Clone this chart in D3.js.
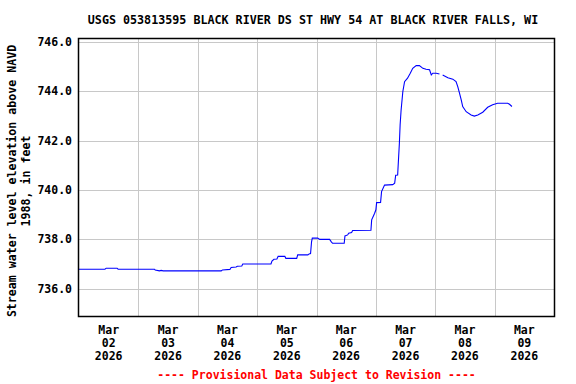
<!DOCTYPE html>
<meta charset="utf-8">
<script src="https://d3js.org/d3.v7.js"></script>
<style>
  body { margin: 0; background: #fff; }
  text { font-family: "DejaVu Sans Mono", monospace; font-weight: bold; }
</style>
<svg id="chart" width="576" height="384"></svg>
<script>
  const width = 576, height = 384;
  const margin = { top: 39, right: 22, bottom: 68, left: 79 };

  const title = "USGS 053813595 BLACK RIVER DS ST HWY 54 AT BLACK RIVER FALLS, WI";
  const yLabel = ["Stream water level elevation above NAVD", "1988, in feet"];
  const footer = "---- Provisional Data Subject to Revision ----";

  // hours after 2026-03-02 00:00, and gage height (ft, NAVD 1988); null = gap
  const hours = [0, 10.5, 11, 15.4, 15.8, 30.5, 30.8, 32.5, 33.2, 34, 57.5, 58, 61, 61.5, 63.5, 64, 65.8, 66.2,
    77.6, 78, 78.8, 80, 80.5, 83.2, 83.6, 88, 88.4, 92.5, 93, 93.6, 94, 94.3, 96.5, 97.3, 101.3, 102, 102.5,
    107.2, 107.5, 108.6, 109, 110.2, 110.6, 118, 118.3, 119.5, 120, 120.3, 121.9, 122.3, 123.5, 126.8, 127.6,
    128, 128.8, 129.5, 129.8, 130.2, 130.9, 131.6, 132.8, 133.9, 134.9, 136.3, 137.6, 139, 140.3, 141.7, 142.4,
    143, 144.4, 145.7, 146.3, 147, 149.1, 151.1, 152.4, 153.1, 153.8, 154.5, 155.1, 156.5, 158.5, 159.8, 161.2,
    163.2, 165.2, 167.2, 169.2, 173.3, 174, 175];
  const elev = [736.79, 736.79, 736.83, 736.83, 736.79, 736.79, 736.76, 736.72, 736.74, 736.72, 736.72, 736.76,
    736.78, 736.86, 736.88, 736.91, 736.92, 737.0, 737.0, 737.12, 737.19, 737.2, 737.31, 737.31, 737.23, 737.23,
    737.37, 737.37, 737.41, 737.42, 737.9, 738.05, 738.05, 738.0, 738.0, 737.9, 737.84, 737.84, 738.14, 738.18,
    738.25, 738.28, 738.36, 738.37, 738.79, 739.06, 739.2, 739.49, 739.5, 739.94, 740.2, 740.22, 740.28, 740.6,
    740.61, 741.9, 742.64, 743.25, 744.0, 744.4, 744.54, 744.74, 744.94, 745.05, 745.05, 744.94, 744.9, 744.88,
    744.67, 744.74, 744.74, 744.71, null, 744.67, 744.56, 744.5, 744.4, 744.2, 743.93, 743.66, 743.39, 743.18,
    743.05, 743.0, 743.05, 743.16, 743.36, 743.46, 743.52, 743.52, 743.48, 743.39];

  const yTicks = [736, 738, 740, 742, 744, 746];
  const dayTicks = ["2026-03-02", "2026-03-03", "2026-03-04", "2026-03-05", "2026-03-06", "2026-03-07", "2026-03-08", "2026-03-09"];

  const start = new Date(2026, 2, 2);
  const parse = d3.timeParse("%Y-%m-%d");

  const svg = d3.select("#chart");
  const x = d3.scaleTime()
    .domain([start, new Date(2026, 2, 10)])
    .range([margin.left, width - margin.right]);
  const y = d3.scaleLinear()
    .domain([734.89, 746.13])
    .range([height - margin.bottom, margin.top]);

  // grid
  svg.append("g").selectAll("line.v")
    .data(dayTicks.slice(1).map(parse))
    .join("line")
    .attr("x1", d => Math.round(x(d)) + 0.5).attr("x2", d => Math.round(x(d)) + 0.5)
    .attr("y1", margin.top).attr("y2", height - margin.bottom)
    .attr("stroke", "#c8c8c8");
  svg.append("g").selectAll("line.h")
    .data(yTicks)
    .join("line")
    .attr("x1", margin.left).attr("x2", width - margin.right)
    .attr("y1", d => Math.round(y(d)) + 0.5).attr("y2", d => Math.round(y(d)) + 0.5)
    .attr("stroke", "#c8c8c8");

  // data line
  const pts = hours.map((h, i) => ({ t: d3.timeMinute.offset(start, Math.round(h * 60)), v: elev[i] }));
  svg.append("path")
    .datum(pts)
    .attr("fill", "none")
    .attr("stroke", "#0000ff")
    .attr("stroke-width", 1.1)
    .attr("d", d3.line().defined(d => d.v !== null).x(d => x(d.t)).y(d => y(d.v)));

  // frame
  svg.append("rect")
    .attr("x", margin.left - 0.5).attr("y", margin.top - 0.5)
    .attr("width", width - margin.left - margin.right + 1)
    .attr("height", height - margin.top - margin.bottom + 1)
    .attr("fill", "none").attr("stroke", "#000").attr("stroke-width", 1.5);

  // y tick labels
  svg.append("g").selectAll("text")
    .data(yTicks)
    .join("text")
    .attr("x", margin.left - 7)
    .attr("y", d => y(d) + 4)
    .attr("text-anchor", "end")
    .attr("font-size", "11.5px")
    .text(d => d.toFixed(1));

  // x tick labels at noon
  const fmt = [d3.timeFormat("%b"), d3.timeFormat("%d"), d3.timeFormat("%Y")];
  const xl = svg.append("g").selectAll("g")
    .data(dayTicks.map(parse))
    .join("g")
    .attr("transform", d => `translate(${x(d3.timeHour.offset(d, 12))},0)`);
  fmt.forEach((f, i) => {
    xl.append("text")
      .attr("y", 334 + i * 13)
      .attr("text-anchor", "middle")
      .attr("font-size", "11.5px")
      .text(d => f(d));
  });

  // title
  svg.append("text")
    .attr("x", 313)
    .attr("y", 24)
    .attr("text-anchor", "middle")
    .attr("font-size", "11.7px")
    .text(title);

  // y label
  yLabel.forEach((t, i) => {
    svg.append("text")
      .attr("transform", `translate(${16 + i * 14},181) rotate(-90)`)
      .attr("text-anchor", "middle")
      .attr("font-size", "11.6px")
      .text(t);
  });

  // footer
  svg.append("text")
    .attr("x", (margin.left + width - margin.right) / 2)
    .attr("y", 379)
    .attr("text-anchor", "middle")
    .attr("font-size", "11.5px")
    .attr("fill", "#ff0000")
    .text(footer);
</script>
